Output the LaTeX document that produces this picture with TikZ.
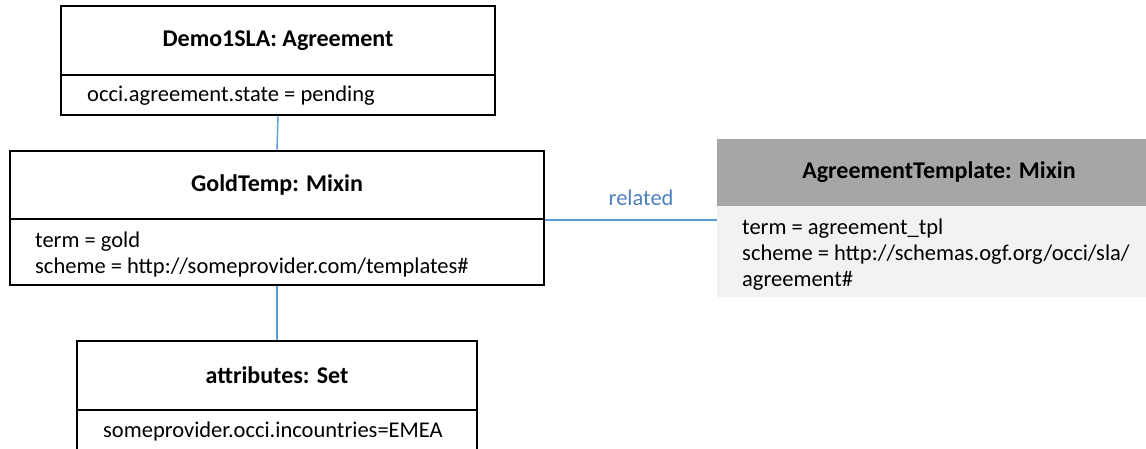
\documentclass[tikz,border=0pt]{standalone}
\usepackage{fontspec}
\setmainfont{Carlito}
\definecolor{linkblue}{HTML}{5B9BD5}
\definecolor{labelblue}{HTML}{4F81BD}
\definecolor{headgray}{HTML}{A6A6A6}
\definecolor{bodygray}{HTML}{F2F2F2}
\tikzset{
  umlbox/.style={draw=black, line width=1.6pt, rectangle, inner sep=0pt},
  titletext/.style={font=\fontsize{24}{28}\selectfont\bfseries},
  bodytext/.style={font=\fontsize{22.5}{26}\selectfont, anchor=base west, inner sep=0pt},
  link/.style={draw=linkblue, line width=1.4pt},
}
\begin{document}
\begin{tikzpicture}[x=1pt,y=-1pt]
\useasboundingbox (0,0) rectangle (1146,448);
\clip (0,0) rectangle (1146,448);
% Demo1SLA
\node[umlbox, titletext, minimum width=434pt, minimum height=69pt] (demohead) at (278,40.5) {Demo1SLA: Agreement};
\node[umlbox, minimum width=434pt, minimum height=40pt] (demobody) at (278,95) {};
\node[bodytext] (demot1) at (87,101.7) {occi.agreement.state = pending};
% GoldTemp
\node[umlbox, titletext, minimum width=534pt, minimum height=68pt] (goldhead) at (277,185) {GoldTemp: Mixin};
\node[umlbox, minimum width=534pt, minimum height=66pt] (goldbody) at (277,252) {};
\node[bodytext] (goldt1) at (35,247.3) {term = gold};
\node[bodytext] (goldt2) at (35,273.3) {scheme = http://someprovider.com/templates\#};
% attributes
\node[umlbox, titletext, minimum width=400pt, minimum height=69pt] (attrhead) at (277,375.5) {attributes: Set};
\node[umlbox, minimum width=400pt, minimum height=46pt] (attrbody) at (277,432.5) {};
\node[bodytext] (attrt1) at (103,437.3) {someprovider.occi.incountries=EMEA};
% AgreementTemplate
\node[fill=headgray, rectangle, inner sep=0pt, titletext, minimum width=444pt, minimum height=67pt] (tplhead) at (939,172.5) {AgreementTemplate: Mixin};
\node[fill=bodygray, rectangle, inner sep=0pt, minimum width=444pt, minimum height=91pt] (tplbody) at (939,251.5) {};
\node[bodytext] (tplt1) at (742,234) {term = agreement\_tpl};
\node[bodytext] (tplt2) at (742,260) {scheme = http://schemas.ogf.org/occi/sla/};
\node[bodytext] (tplt3) at (742,286) {agreement\#};
% connectors
\draw[link] (demobody.south) -- (goldhead.north);
\draw[link] (goldbody.south) -- (attrhead.north);
\draw[link] (goldhead.south east) -- (goldhead.south east -| tplbody.west)
  node[pos=0.56, above=10pt, text=labelblue, font=\fontsize{22.5}{24}\selectfont] (rel) {related};
\end{tikzpicture}
\end{document}
